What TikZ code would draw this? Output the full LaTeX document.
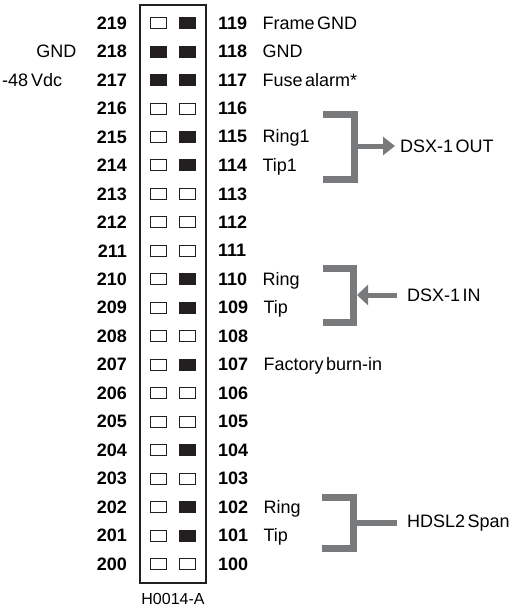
\documentclass[tikz,border=0pt]{standalone}
\usepackage{fontspec}
\setmainfont[WordSpace=0.5]{Liberation Sans}
\usepackage{xcolor}
\usepackage{tikz}
\usetikzlibrary{positioning}
\usetikzlibrary{arrows.meta}

\definecolor{bracketgray}{RGB}{120,122,124}
\definecolor{pinblack}{RGB}{35,31,32}

\tikzset{
  pinnum/.style={font=\fontsize{18}{21}\selectfont\bfseries, inner sep=0pt},
  siglabel/.style={font=\fontsize{18}{21}\selectfont, inner sep=0pt, anchor=base west},
  pinoff/.style={draw=pinblack, line width=0.8pt, minimum width=16pt, minimum height=11pt, inner sep=0pt},
  pinon/.style={pinoff, fill=pinblack},
  bracket/.style={draw=bracketgray, line width=7pt},
}

\begin{document}
\begin{tikzpicture}[x=1pt, y=-1pt]
  \useasboundingbox (0,0) rectangle (511,607);

  % Connector block outline and part number
  \draw[line width=2pt, pinblack] (140,5) rectangle (206,583);
  \node[font=\fontsize{16}{19}\selectfont, inner sep=0pt, anchor=north] (partno) at (173,593) {H0014-A};

  % Pin numbers and pins, top row 219/119 down to 200/100
  \foreach \r/\a/\b [count=\i from 0] in {19/pinoff/pinon, 18/pinon/pinon, 17/pinon/pinon,
      16/pinoff/pinoff, 15/pinoff/pinon, 14/pinoff/pinon, 13/pinoff/pinoff, 12/pinoff/pinoff,
      11/pinoff/pinoff, 10/pinoff/pinon, 09/pinoff/pinon, 08/pinoff/pinoff, 07/pinoff/pinon,
      06/pinoff/pinoff, 05/pinoff/pinoff, 04/pinoff/pinon, 03/pinoff/pinoff, 02/pinoff/pinon,
      01/pinoff/pinon, 00/pinoff/pinoff} {
    \pgfmathsetmacro{\y}{23+\i*28.47}
    \node[pinnum, anchor=east] (n2\r) at (127,\y) {2\r};
    \node[\a] (p2\r) at (158.5,\y) {};
    \node[\b] (p1\r) at (187.5,\y) {};
    \node[pinnum, anchor=west] (n1\r) at (218,\y) {1\r};
  }

  % Signal names
  \coordinate (leftedge) at (2,0);
  \node[siglabel, anchor=base east] (gnd) at ([xshift=-20pt]n218.base west) {GND};
  \node[siglabel] (vdc) at (n217.base -| leftedge) {-48\,Vdc};
  \node[siglabel] (framegnd) at ([xshift=15pt]n119.base east) {Frame GND};
  \node[siglabel] (gndr) at ([xshift=15pt]n118.base east) {GND};
  \node[siglabel] (fuse) at ([xshift=15pt]n117.base east) {Fuse alarm*};
  \node[siglabel] (ringone) at ([xshift=15pt]n115.base east) {Ring1};
  \node[siglabel] (tipone) at ([xshift=15pt]n114.base east) {Tip1};
  \node[siglabel] (ringin) at ([xshift=15pt]n110.base east) {Ring};
  \node[siglabel] (tipin) at ([xshift=15pt]n109.base east) {Tip};
  \node[siglabel] (burnin) at ([xshift=15pt]n107.base east) {Factory burn-in};
  \node[siglabel] (ringspan) at ([xshift=15pt]n102.base east) {Ring};
  \node[siglabel] (tipspan) at ([xshift=15pt]n101.base east) {Tip};

  % Interface names
  \node[siglabel, anchor=west] (dsxout) at (400,146) {DSX-1 OUT};
  \node[siglabel, anchor=west] (dsxin) at (407,295) {DSX-1 IN};
  \node[siglabel, anchor=west] (hdsl) at (407,523) {HDSL2 Span};

  % Brackets
  \coordinate (outmid) at (354.5,146);
  \coordinate (inmid) at (353.5,295);
  \coordinate (spanmid) at (353,523);
  \draw[bracket] (323,114.5) -- (354.5,114.5) -- (354.5,179) -- (323,179);
  \draw[bracket] (323,268.5) -- (353.5,268.5) -- (353.5,322) -- (323,322);
  \draw[bracket] (322,497.5) -- (353,497.5) -- (353,548.5) -- (322,548.5);

  % Arrows to the interfaces
  \draw[bracketgray, line width=5pt, shorten >=5pt, -{Triangle[length=12pt,width=18pt]}] (outmid) -- (dsxout.west);
  \draw[bracketgray, line width=5pt, shorten <=10pt, shorten >=3.5pt, -{Triangle[length=11pt,width=20pt]}] (dsxin.west) -- (inmid);
  \draw[bracketgray, line width=6pt, shorten >=10pt] (spanmid) -- (hdsl.west);
\end{tikzpicture}
\end{document}
